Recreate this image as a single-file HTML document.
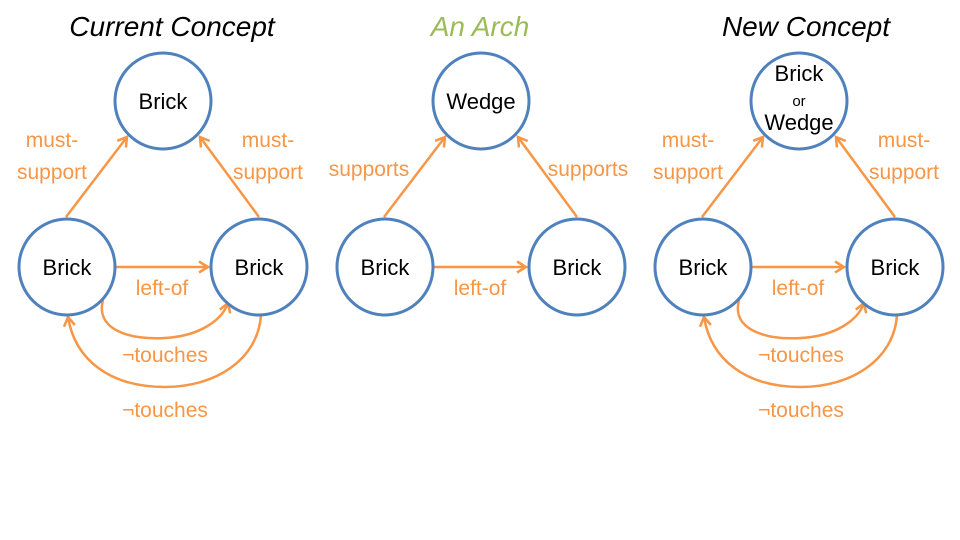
<!DOCTYPE html>
<html><head><meta charset="utf-8"><style>
html,body{margin:0;padding:0;background:#fff;width:960px;height:540px;overflow:hidden}
svg text{font-family:"Liberation Sans",sans-serif}
</style></head><body>
<svg width="960" height="540" viewBox="0 0 960 540" xmlns="http://www.w3.org/2000/svg">
<defs>
<marker id="a" markerWidth="14" markerHeight="14" refX="10" refY="7" orient="auto" markerUnits="userSpaceOnUse">
<path d="M1,1.5 L10,7 L1,12.5" fill="none" stroke="#F79646" stroke-width="2.5"/>
</marker>
</defs>
<g font-family="Liberation Serif, serif" font-style="italic" font-size="28" text-anchor="middle">
<text x="172" y="36" fill="#000">Current Concept</text>
<text x="480" y="36" fill="#9BBB59">An Arch</text>
<text x="806" y="36" fill="#000">New Concept</text>
</g>

<g id="g1">
<g fill="none" stroke="#F79646" stroke-width="2.5">
<line x1="66" y1="217" x2="127" y2="137" marker-end="url(#a)"/>
<line x1="259" y1="217" x2="200" y2="137" marker-end="url(#a)"/>
<line x1="116" y1="267" x2="208" y2="267" marker-end="url(#a)"/>
<path d="M103,300 C95,330 130,340 165,338 C200,336 222,320 228,303" marker-end="url(#a)"/>
<path d="M261,315 C258,360 215,387 165,387 C110,387 75,360 68,317" marker-end="url(#a)"/>
</g>
<g fill="#fff" stroke="#4F81BD" stroke-width="3">
<circle cx="67" cy="267" r="48"/>
<circle cx="259" cy="267" r="48"/>
</g>
<g font-size="22" text-anchor="middle" fill="#000">
<text x="67" y="275">Brick</text>
<text x="259" y="275">Brick</text>
</g>
<g font-size="21" text-anchor="middle" fill="#F79646">
<text x="162" y="295">left-of</text>
<text x="165" y="362">¬touches</text>
<text x="165" y="417">¬touches</text>
</g>
</g>
<g fill="#fff" stroke="#4F81BD" stroke-width="3">
<circle cx="163" cy="101" r="48"/>
</g>
<text x="163" y="109" font-size="22" text-anchor="middle">Brick</text>
<g font-size="21" text-anchor="middle" fill="#F79646">
<text x="52" y="147">must-</text><text x="52" y="179">support</text>
<text x="268" y="147">must-</text><text x="268" y="179">support</text>
</g>

<g transform="translate(318,0)">
<g fill="none" stroke="#F79646" stroke-width="2.5">
<line x1="66" y1="217" x2="127" y2="137" marker-end="url(#a)"/>
<line x1="259" y1="217" x2="200" y2="137" marker-end="url(#a)"/>
<line x1="116" y1="267" x2="208" y2="267" marker-end="url(#a)"/>
</g>
<g fill="#fff" stroke="#4F81BD" stroke-width="3">
<circle cx="67" cy="267" r="48"/>
<circle cx="259" cy="267" r="48"/>
<circle cx="163" cy="101" r="48"/>
</g>
<g font-size="22" text-anchor="middle" fill="#000">
<text x="67" y="275">Brick</text>
<text x="259" y="275">Brick</text>
<text x="163" y="109">Wedge</text>
</g>
<g font-size="21" text-anchor="middle" fill="#F79646">
<text x="162" y="295">left-of</text>
<text x="51" y="176">supports</text>
<text x="270" y="176">supports</text>
</g>
</g>

<g transform="translate(636,0)">
<use href="#g1"/>
<g fill="#fff" stroke="#4F81BD" stroke-width="3">
<circle cx="163" cy="101" r="48"/>
</g>
<g text-anchor="middle" fill="#000">
<text x="163" y="81" font-size="22">Brick</text>
<text x="163" y="106" font-size="15">or</text>
<text x="163" y="130" font-size="22">Wedge</text>
</g>
<g font-size="21" text-anchor="middle" fill="#F79646">
<text x="52" y="147">must-</text><text x="52" y="179">support</text>
<text x="268" y="147">must-</text><text x="268" y="179">support</text>
</g>
</g>
</svg>
</body></html>
